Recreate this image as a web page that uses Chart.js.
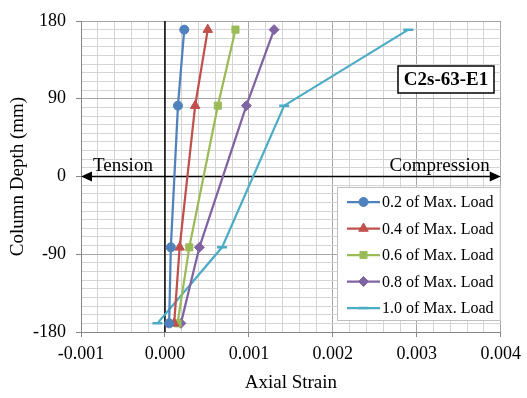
<!DOCTYPE html>
<html>
<head>
<meta charset="utf-8">
<script src="https://cdn.jsdelivr.net/npm/chart.js@4/dist/chart.umd.min.js"></script>
<style>
  html, body { margin: 0; padding: 0; background: #fff; }
  #wrap { width: 527px; height: 398px; }
</style>
</head>
<body>
<div id="wrap"><canvas id="strainChart" width="527" height="398"></canvas></div>
<script>
// gauge depths along the column (mm)
const depths = [170, 82, -82, -170];

// axial strain at each gauge, per load level
const strain02 = [0.00023, 0.000155, 0.00007, 0.00005];
const strain04 = [0.00051, 0.00036, 0.000175, 0.00011];
const strain06 = [0.00084, 0.00063, 0.00029, 0.00015];
const strain08 = [0.0013, 0.00097, 0.00041, 0.00019];
const strain10 = [0.0029, 0.00142, 0.00068, -0.00009];

const loadLabels = ['0.2 of Max. Load', '0.4 of Max. Load', '0.6 of Max. Load', '0.8 of Max. Load', '1.0 of Max. Load'];
const yTickLabels = [-180, -90, 0, 90, 180];
const xTickLabels = [-0.001, 0.000, 0.001, 0.002, 0.003, 0.004];

const colors = ['#4F81BD', '#C0504D', '#9BBB59', '#8064A2', '#4BACC6'];
const markers = ['circle', 'triangle', 'rect', 'rectRot', 'line'];
const markerSize = [4.5, 5.5, 5, 5, 5];
const allStrains = [strain02, strain04, strain06, strain08, strain10];

const serif = '"Liberation Serif", "Times New Roman", serif';
const minorGrid = '#d4d4d4';
const majorGrid = '#a6a6a6';

function toPoints(xs) {
    return xs.map((x, i) => ({ x: x, y: depths[i] }));
}

function isMajorX(v) {
    return Math.abs(v * 1000 - Math.round(v * 1000)) < 1e-6;
}

function isMajorY(v) {
    return Math.abs(v % 90) < 1e-6;
}

let datasets = allStrains.map((s, i) => ({
    label: loadLabels[i],
    data: toPoints(s),
    showLine: true,
    borderColor: colors[i],
    backgroundColor: colors[i],
    borderWidth: 2.25,
    pointStyle: markers[i],
    pointRadius: markerSize[i],
    pointBorderWidth: markers[i] === 'line' ? 2.5 : 1,
    pointBackgroundColor: colors[i],
    pointBorderColor: colors[i],
}));

// zero axis, tension/compression arrow, label box and legend
const overlay = {
    id: 'overlay',
    beforeDatasetsDraw(chart) {
        const { ctx, chartArea: a, scales } = chart;
        const x0 = scales.x.getPixelForValue(0);
        const y0 = scales.y.getPixelForValue(0);
        ctx.save();
        ctx.strokeStyle = '#000';
        ctx.lineWidth = 1.5;
        ctx.beginPath();
        ctx.moveTo(x0, a.top);
        ctx.lineTo(x0, a.bottom);
        ctx.stroke();

        // double arrow along zero depth
        ctx.beginPath();
        ctx.moveTo(a.left + 8, y0);
        ctx.lineTo(a.right - 8, y0);
        ctx.stroke();
        ctx.fillStyle = '#000';
        ctx.beginPath();
        ctx.moveTo(a.left, y0);
        ctx.lineTo(a.left + 11, y0 - 5);
        ctx.lineTo(a.left + 11, y0 + 5);
        ctx.closePath();
        ctx.fill();
        ctx.beginPath();
        ctx.moveTo(a.right, y0);
        ctx.lineTo(a.right - 11, y0 - 5);
        ctx.lineTo(a.right - 11, y0 + 5);
        ctx.closePath();
        ctx.fill();

        ctx.font = '19px ' + serif;
        ctx.textBaseline = 'alphabetic';
        ctx.textAlign = 'left';
        ctx.fillText('Tension', a.left + 12, y0 - 6);
        ctx.textAlign = 'right';
        ctx.fillText('Compression', a.right - 11, y0 - 6);
        ctx.restore();
    },
    afterDraw(chart) {
        const { ctx, chartArea: a } = chart;
        ctx.save();

        // specimen name box
        const bx = 398, by = 66, bw = 96, bh = 27;
        ctx.fillStyle = '#fff';
        ctx.fillRect(bx, by, bw, bh);
        ctx.strokeStyle = '#000';
        ctx.lineWidth = 1.5;
        ctx.strokeRect(bx, by, bw, bh);
        ctx.fillStyle = '#000';
        ctx.font = 'bold 19px ' + serif;
        ctx.textAlign = 'center';
        ctx.textBaseline = 'middle';
        ctx.fillText('C2s-63-E1', bx + bw / 2, by + bh / 2 + 1);

        // legend
        const lx = 337, ly = 187, lw = a.right - 337, lh = 134;
        ctx.fillStyle = '#fff';
        ctx.fillRect(lx, ly, lw, lh);
        ctx.strokeStyle = '#bfbfbf';
        ctx.lineWidth = 1;
        ctx.strokeRect(lx + 0.5, ly + 0.5, lw - 1, lh - 1);
        ctx.font = '16px ' + serif;
        ctx.textAlign = 'left';
        ctx.textBaseline = 'middle';
        chart.data.datasets.forEach((ds, i) => {
            const ry = 202 + i * 26.5;
            ctx.strokeStyle = ds.borderColor;
            ctx.fillStyle = ds.backgroundColor;
            ctx.lineWidth = 2.25;
            ctx.beginPath();
            ctx.moveTo(347, ry);
            ctx.lineTo(380, ry);
            ctx.stroke();
            ctx.lineWidth = ds.pointBorderWidth;
            Chart.helpers.drawPoint(ctx, {
                pointStyle: ds.pointStyle,
                radius: ds.pointRadius,
                borderWidth: ds.pointBorderWidth,
                rotation: 0,
            }, 363.5, ry);
            ctx.fillStyle = '#000';
            ctx.fillText(ds.label, 382, ry + 1);
        });
        ctx.restore();
    }
};

new Chart(document.getElementById('strainChart'), {
    type: 'scatter',
    data: { datasets: datasets },
    options: {
        responsive: false,
        animation: false,
        layout: { padding: { left: 0, top: 21, right: 22, bottom: 0 } },
        plugins: {
            legend: { display: false },
            tooltip: { enabled: false },
        },
        scales: {
            x: {
                type: 'linear',
                min: xTickLabels[0],
                max: xTickLabels[xTickLabels.length - 1],
                afterFit(scale) { scale.height = 66; },
                ticks: {
                    stepSize: 0.0002,
                    autoSkip: false,
                    maxRotation: 0,
                    padding: 6,
                    color: '#000',
                    font: { family: serif, size: 18 },
                    callback: (v) => isMajorX(v) ? v.toFixed(3) : '',
                },
                grid: {
                    color: (c) => isMajorX(c.tick.value) ? majorGrid : minorGrid,
                    tickColor: (c) => isMajorX(c.tick.value) ? '#868686' : 'rgba(0,0,0,0)',
                    tickLength: 5,
                    lineWidth: 1,
                },
                border: { color: '#868686', width: 1 },
                title: {
                    display: true,
                    text: 'Axial Strain',
                    color: '#000',
                    font: { family: serif, size: 19 },
                    padding: { top: 0, bottom: 4 },
                },
            },
            y: {
                type: 'linear',
                min: yTickLabels[0],
                max: yTickLabels[yTickLabels.length - 1],
                afterFit(scale) { scale.width = 81; },
                ticks: {
                    stepSize: 10,
                    autoSkip: false,
                    padding: 10,
                    color: '#000',
                    font: { family: serif, size: 18 },
                    callback: (v) => isMajorY(v) ? String(v) : '',
                },
                grid: {
                    color: (c) => isMajorY(c.tick.value) ? majorGrid : minorGrid,
                    tickColor: (c) => isMajorY(c.tick.value) ? '#868686' : 'rgba(0,0,0,0)',
                    tickLength: 5,
                    lineWidth: 1,
                },
                border: { color: '#868686', width: 1 },
                title: {
                    display: true,
                    text: 'Column Depth (mm)',
                    color: '#000',
                    font: { family: serif, size: 19 },
                    padding: { top: 7, bottom: 0 },
                },
            },
        },
    },
    plugins: [overlay],
});
</script>
</body>
</html>
